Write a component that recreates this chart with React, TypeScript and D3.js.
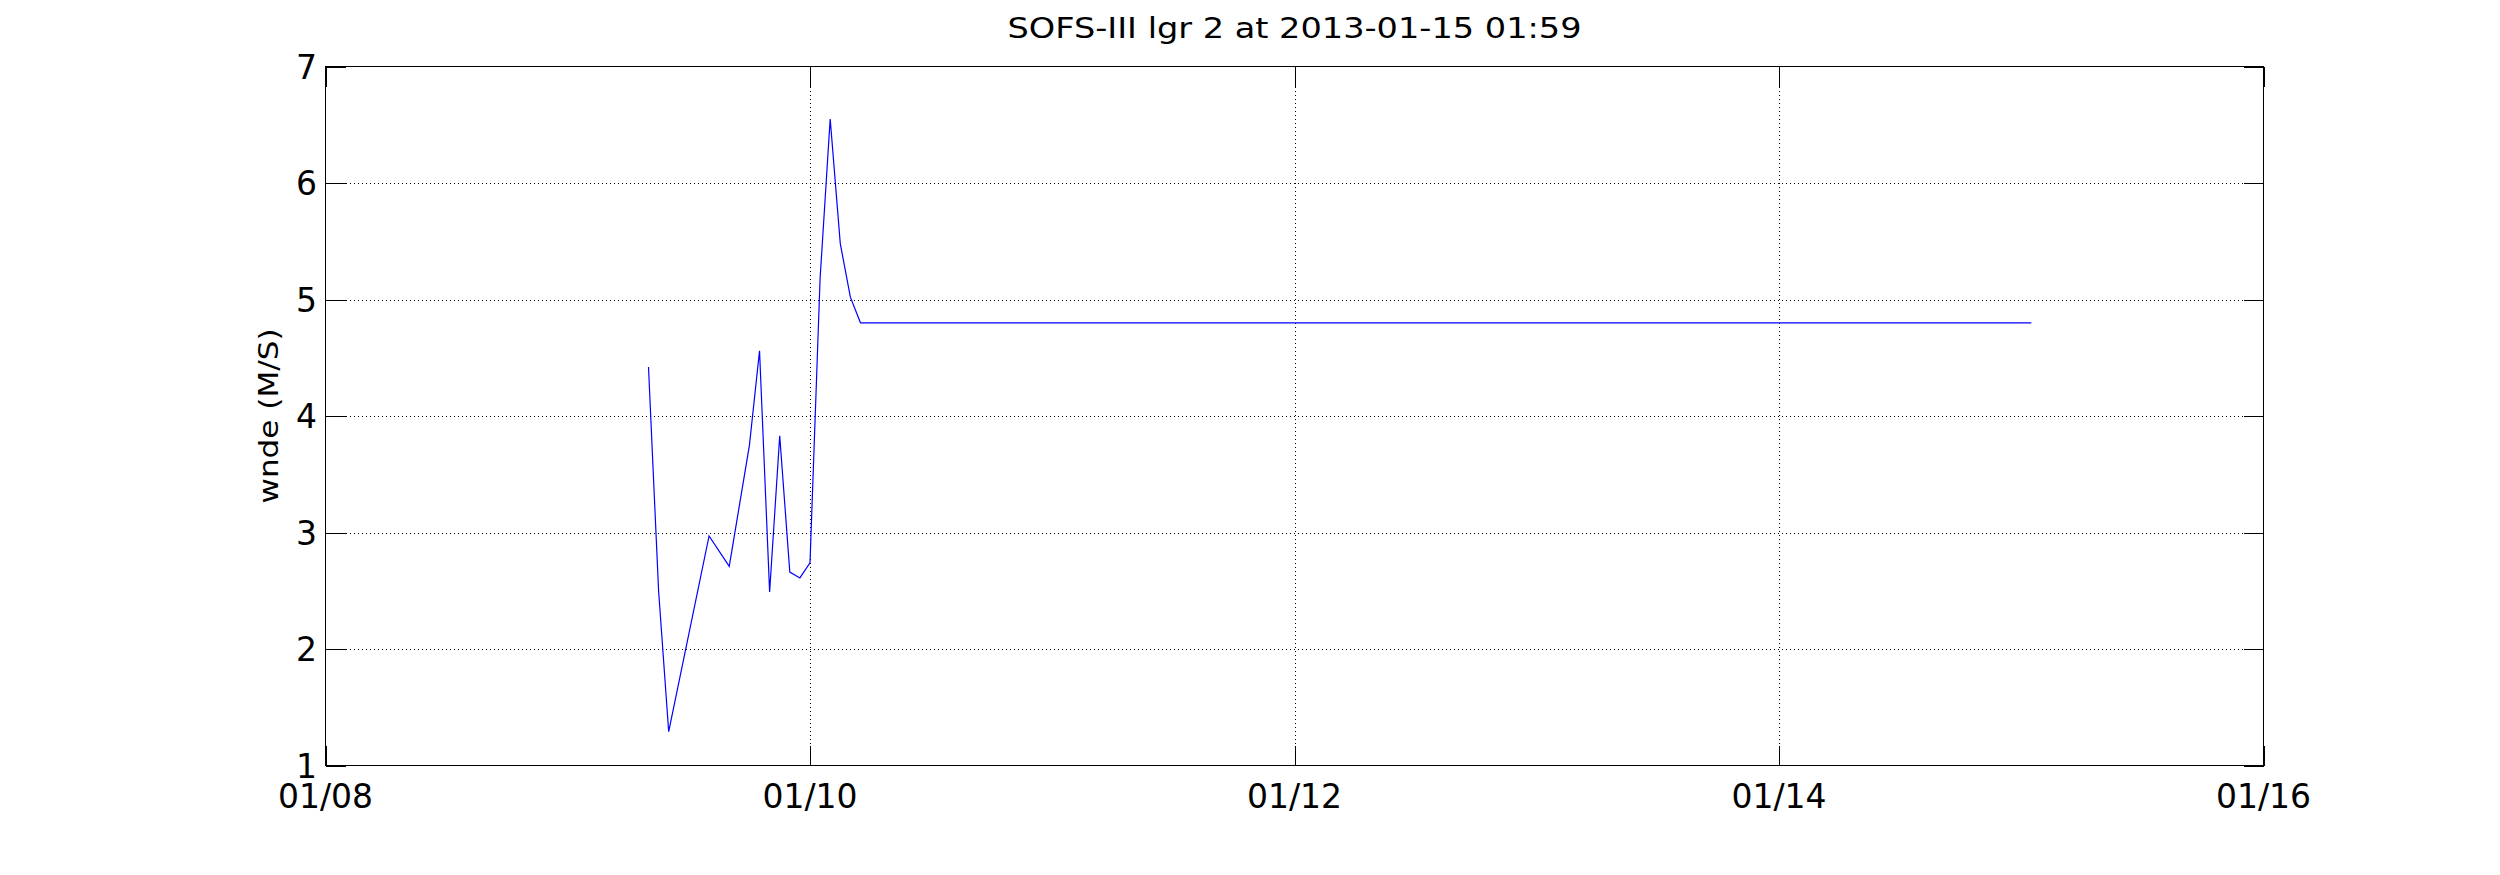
import React from "react";
import * as d3 from "d3";

// ---- data ----
const times: string[] = [
  "2013-01-09T08:00", "2013-01-09T09:00", "2013-01-09T10:00", "2013-01-09T14:00",
  "2013-01-09T16:00", "2013-01-09T18:00", "2013-01-09T19:00", "2013-01-09T20:00",
  "2013-01-09T21:00", "2013-01-09T22:00", "2013-01-09T23:00", "2013-01-10T00:00",
  "2013-01-10T01:00", "2013-01-10T02:00", "2013-01-10T03:00", "2013-01-10T04:00",
  "2013-01-10T05:00", "2013-01-15T01:00",
];
const wnde: number[] = [
  4.42, 2.5, 1.29, 2.97,
  2.71, 3.75, 4.56, 2.49,
  3.83, 2.66, 2.61, 2.74,
  5.18, 6.55, 5.48, 5.02,
  4.8, 4.8,
];
const xTickDates: string[] = ["2013-01-08", "2013-01-10", "2013-01-12", "2013-01-14", "2013-01-16"];
const xTickLabels: string[] = ["01/08", "01/10", "01/12", "01/14", "01/16"];
const yTicks: number[] = [1, 2, 3, 4, 5, 6, 7];
const titleText = "SOFS-III lgr 2 at 2013-01-15 01:59";
const yLabelText = "wnde (M/S)";

const W = 2500, H = 875;
const L = 325.5, R = 2263.5, T = 66.5, B = 765.5;

export default function App() {
  const parse = (s: string) => new Date(s + (s.length > 10 ? ":00Z" : "T00:00:00Z"));
  const x = d3.scaleUtc().domain([parse(xTickDates[0]), parse(xTickDates[xTickDates.length - 1])]).range([L, R]);
  const y = d3.scaleLinear().domain([1, 7]).range([B, T]);
  const pts = times.map((t, i) => ({ t: parse(t), v: wnde[i] }));
  const line = d3.line<{ t: Date; v: number }>().x(d => x(d.t)).y(d => y(d.v));
  const tickLen = 20;
  const tickFont = "'DejaVu Sans', sans-serif";
  const condFont = "'DejaVu Sans Condensed', 'DejaVu Sans', sans-serif";

  return (
    <svg width={W} height={H} style={{ position: "absolute", left: 0, top: 0, background: "#fff" }}>
      <rect x={0} y={0} width={W} height={H} fill="#fff" />
      {/* grid */}
      <g stroke="#000" strokeWidth={1} strokeDasharray="1,3" shapeRendering="crispEdges">
        {xTickDates.slice(1, -1).map((d, i) => {
          const xx = Math.round(x(parse(d))) + 0.5;
          return <line key={"gx" + i} x1={xx} x2={xx} y1={T} y2={B} />;
        })}
        {yTicks.slice(1, -1).map((v, i) => {
          const yy = Math.round(y(v)) + 0.5;
          return <line key={"gy" + i} x1={L} x2={R} y1={yy} y2={yy} />;
        })}
      </g>
      {/* data line */}
      <path d={line(pts) || ""} fill="none" stroke="#0000ff" strokeWidth={1.2} />
      {/* box and ticks */}
      <g stroke="#000" strokeWidth={1} shapeRendering="crispEdges" fill="none">
        <rect x={L} y={T} width={R - L} height={B - T} />
        {xTickDates.map((d, i) => {
          const xx = Math.round(x(parse(d))) + 0.5;
          return (
            <g key={"tx" + i}>
              <line x1={xx} x2={xx} y1={B} y2={B - tickLen} />
              <line x1={xx} x2={xx} y1={T} y2={T + tickLen} />
            </g>
          );
        })}
        {yTicks.map((v, i) => {
          const yy = Math.round(y(v)) + 0.5;
          return (
            <g key={"ty" + i}>
              <line x1={L} x2={L + tickLen} y1={yy} y2={yy} />
              <line x1={R} x2={R - tickLen} y1={yy} y2={yy} />
            </g>
          );
        })}
      </g>
      {/* tick labels */}
      <g fontFamily={tickFont} fontSize={33} fill="#000">
        {xTickDates.map((d, i) => (
          <text key={"lx" + i} x={x(parse(d))} y={808} textAnchor="middle">{xTickLabels[i]}</text>
        ))}
        {yTicks.map((v, i) => (
          <text key={"ly" + i} x={317} y={y(v) + 12} textAnchor="end">{v}</text>
        ))}
      </g>
      {/* title */}
      <text x={(L + R) / 2} y={38} textAnchor="middle" fontFamily={condFont} fontSize={29}
        textLength={574} lengthAdjust="spacingAndGlyphs" fill="#000">{titleText}</text>
      {/* y label */}
      <text transform={`translate(278, ${(T + B) / 2}) rotate(-90)`} textAnchor="middle" fontFamily={condFont}
        fontSize={27} textLength={175} lengthAdjust="spacingAndGlyphs" fill="#000">{yLabelText}</text>
    </svg>
  );
}
